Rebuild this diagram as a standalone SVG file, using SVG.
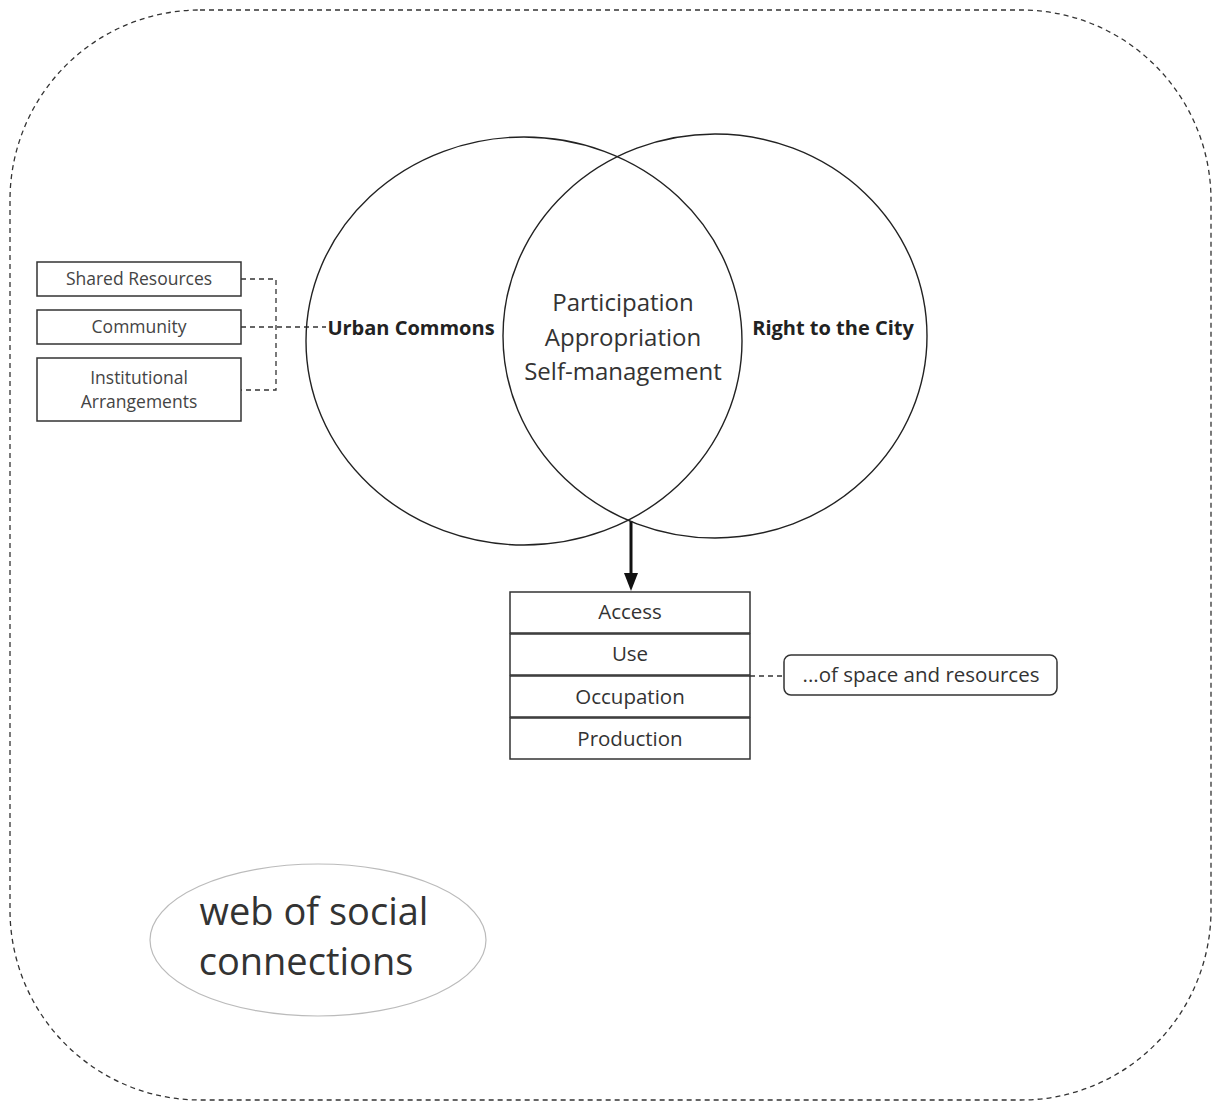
<svg xmlns="http://www.w3.org/2000/svg" width="1213" height="1102" viewBox="0 0 1213 1102">
<style>
text{font-family:"Open Sans","Liberation Sans",sans-serif;fill:#333;text-anchor:middle;dominant-baseline:central}
.box{fill:#fff;stroke:#333;stroke-width:1.5}
.dash{fill:none;stroke:#333;stroke-width:1.3;stroke-dasharray:5 4}
.circ{fill:none;stroke:#222;stroke-width:1.4}
.bold{font-weight:bold;font-size:20px;fill:#222}
.small{font-size:17.5px;fill:#444}
.mid{font-size:20.5px;fill:#333}
</style>
<rect id="frame" x="10" y="10" width="1201" height="1090" rx="190" ry="190" fill="none" stroke="#333" stroke-width="1.3" stroke-dasharray="5 4"/>
<g id="connectors">
<path class="dash" d="M241,279 H276 V390 H241"/>
<path class="dash" d="M241,327 H326"/>
<path class="dash" d="M750,676 H784"/>
<line x1="631" y1="521" x2="631" y2="577" stroke="#111" stroke-width="3"/>
<path d="M624,573 L638,573 L631,591 Z" fill="#111"/>
</g>
<g id="urban-commons">
<ellipse class="circ" cx="524" cy="341" rx="218" ry="204"/>
<text class="bold" x="411" y="327">Urban Commons</text>
</g>
<g id="right-to-city">
<ellipse class="circ" cx="715" cy="336" rx="212" ry="202"/>
<text class="bold" x="833" y="327">Right to the City</text>
</g>
<g id="intersection">
<text font-size="24" x="623" y="301">Participation</text>
<text font-size="24" x="623" y="336">Appropriation</text>
<text font-size="24" x="623" y="370">Self-management</text>
</g>
<g id="shared-resources">
<rect class="box" x="37" y="262" width="204" height="34"/>
<text class="small" x="139" y="278">Shared Resources</text>
</g>
<g id="community">
<rect class="box" x="37" y="310" width="204" height="34"/>
<text class="small" x="139" y="326">Community</text>
</g>
<g id="institutional">
<rect class="box" x="37" y="358" width="204" height="63"/>
<text class="small" x="139" y="377">Institutional</text>
<text class="small" x="139" y="401">Arrangements</text>
</g>
<g id="access">
<rect class="box" x="510" y="592" width="240" height="41"/>
<text class="mid" x="630" y="611">Access</text>
</g>
<g id="use">
<rect class="box" x="510" y="634" width="240" height="41"/>
<text class="mid" x="630" y="653">Use</text>
</g>
<g id="occupation">
<rect class="box" x="510" y="676" width="240" height="41"/>
<text class="mid" x="630" y="696">Occupation</text>
</g>
<g id="production">
<rect class="box" x="510" y="718" width="240" height="41"/>
<text class="mid" x="630" y="738">Production</text>
</g>
<g id="space-resources">
<rect class="box" x="784" y="655" width="273" height="40" rx="7" ry="7"/>
<text class="mid" x="921" y="674">...of space and resources</text>
</g>
<g id="web">
<ellipse cx="318" cy="940" rx="168" ry="76" fill="#fff" stroke="#bbb" stroke-width="1.2"/>
<text font-size="38" x="314" y="910" fill="#222">web of social</text>
<text font-size="38" x="306" y="960" fill="#222">connections</text>
</g>
</svg>
